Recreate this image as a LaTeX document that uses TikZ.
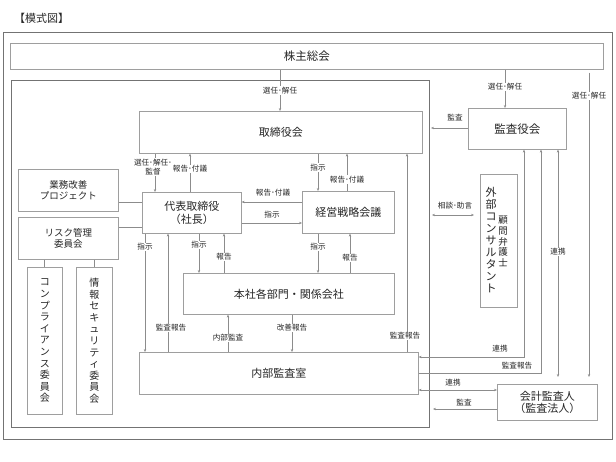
\documentclass[tikz,border=0pt]{standalone}
\usepackage{fontspec}
\setmainfont{Noto Sans CJK JP}
\usetikzlibrary{arrows.meta}
\begin{document}
\begin{tikzpicture}[x=1pt,y=-1pt,
  box/.style={draw=black!38, line width=0.6pt, inner sep=0pt, align=center, anchor=north west, text=black!85, font=\fontsize{11}{13}\selectfont},
  sidebox/.style={box, font=\fontsize{9.5}{11.5}\selectfont},
  vbox/.style={box, font=\fontsize{10}{11.6}\selectfont},
  frame/.style={draw=black!55, line width=0.7pt},
  conn/.style={draw=black!45, line width=0.6pt},
  arr/.style={conn, -{Stealth[length=3pt,width=2.4pt]}},
  darr/.style={conn, {Stealth[length=3pt,width=2.4pt]}-{Stealth[length=3pt,width=2.4pt]}},
  lbl/.style={fill=white, inner sep=0.8pt, text=black!85, font=\fontsize{7.6}{8.6}\selectfont, align=center},
  tlbl/.style={inner sep=0.8pt, text=black!85, font=\fontsize{7.6}{8.6}\selectfont},
]
\useasboundingbox (0,0) rectangle (616,462);
\fill[white] (0,0) rectangle (616,462);

\node[anchor=west, inner sep=0pt, text=black!85, font=\fontsize{11}{13}\selectfont] (title) at (14,18) {【模式図】};

% frames
\draw[frame] (3,32) rectangle (612,439);
\draw[frame] (11,80) rectangle (429,427);

% boxes
\node[box, minimum width=593pt, minimum height=26pt, font=\fontsize{11.5}{13}\selectfont] (kab) at (10,43) {株主総会};
\node[box, minimum width=283pt, minimum height=42pt] (tori) at (139,111) {取締役会};
\node[box, minimum width=98pt, minimum height=41pt, font=\fontsize{11.5}{13}\selectfont] (kansa) at (468,108) {監査役会};
\node[box, minimum width=99pt, minimum height=41pt] (daihyo) at (142,192) {代表取締役\\（社長）};
\node[box, minimum width=92pt, minimum height=42pt] (keiei) at (302,191) {経営戦略会議};
\node[sidebox, minimum width=100pt, minimum height=42pt] (gyomu) at (18,169) {業務改善\\プロジェクト};
\node[sidebox, minimum width=100pt, minimum height=42pt] (risk) at (18,217) {リスク管理\\委員会};
\node[vbox, minimum width=35pt, minimum height=147pt] (comp) at (27,267) {コ\\ン\\プ\\ラ\\イ\\ア\\ン\\ス\\委\\員\\会};
\node[vbox, minimum width=36pt, minimum height=147pt] (joho) at (76,267) {情\\報\\セ\\キ\\ュ\\リ\\テ\\ィ\\委\\員\\会};
\node[box, minimum width=211pt, minimum height=41pt] (honsha) at (183,273) {本社各部門・関係会社};
\node[box, minimum width=279pt, minimum height=42pt] (naibu) at (139,352) {内部監査室};
\node[box, minimum width=37pt, minimum height=133pt] (gaibu) at (480,174) {};
\node[inner sep=0pt, align=center, text=black!85, font=\fontsize{11}{11.9}\selectfont] (gaibuA) at (491,240) {外\\部\\コ\\ン\\サ\\ル\\タ\\ン\\ト};
\node[inner sep=0pt, align=center, text=black!85, font=\fontsize{9.5}{10.6}\selectfont] (gaibuB) at (503,241.5) {顧\\問\\弁\\護\\士};
\node[box, minimum width=100pt, minimum height=36pt, font=\fontsize{11}{12.5}\selectfont] (kaikei) at (497,384) {会計監査人\\（監査法人）};

% helper coordinates
\coordinate (x145) at (145,0); \coordinate (x155) at (155,0); \coordinate (x168) at (168,0);
\coordinate (x190) at (190,0); \coordinate (x199) at (199,0); \coordinate (x224) at (224,0);
\coordinate (x228) at (228,0); \coordinate (x280) at (280,0); \coordinate (x292) at (292,0);
\coordinate (x318) at (318,0); \coordinate (x347) at (347,0); \coordinate (x350) at (350,0);
\coordinate (x407) at (407,0); \coordinate (x505) at (505,0); \coordinate (x524) at (524,0);
\coordinate (x541) at (541,0); \coordinate (x558) at (558,0); \coordinate (x589) at (589,0);
\coordinate (x44) at (44,0); \coordinate (x94) at (94,0);
\coordinate (y128) at (0,128); \coordinate (y202) at (0,202); \coordinate (y223) at (0,223);
\coordinate (y227) at (0,227); \coordinate (y357) at (0,357); \coordinate (y373) at (0,373);
\coordinate (y390) at (0,390); \coordinate (y409) at (0,409); \coordinate (y215) at (0,215);
\coordinate (sodanL) at (432,215);
\coordinate (kansaL) at (431,128);
\coordinate (kaikeiL) at (433,409);
\coordinate (c524) at (524,357); \coordinate (c541) at (541,373);

% shareholders
\draw[arr] (kab.south -| x280) -- (tori.north -| x280) node[lbl, pos=0.5] (l1) {選任･解任};
\draw[arr] (kab.south -| x505) -- (kansa.north -| x505) node[lbl, pos=0.45] (l2) {選任･解任};
\draw[arr, shorten <=3pt, shorten >=7pt] (kab.south -| x589) -- (kaikei.north -| x589);
\node[lbl] (l3) at (589,96) {選任･解任};

% audit board
\draw[arr] (kansa.west |- y128) -- (kansaL);
\node[tlbl] (l4) at (455,118) {監査};

% board <-> president
\draw[arr] (tori.south -| x155) -- (daihyo.north -| x155);
\node[lbl] (l5) at (153,167) {選任･解任･\\監督};
\draw[arr] (daihyo.north -| x190) -- (tori.south -| x190) node[lbl, pos=0.6] (l6) {報告･付議};

% board <-> strategy
\draw[arr] (tori.south -| x318) -- (keiei.north -| x318) node[lbl, pos=0.37] (l7) {指示};
\draw[arr] (keiei.north -| x347) -- (tori.south -| x347) node[lbl, pos=0.3] (l8) {報告･付議};

% president <-> strategy
\draw[arr] (keiei.west |- y202) -- (daihyo.east |- y202);
\node[tlbl] (l9) at (273,193) {報告･付議};
\draw[arr] (daihyo.east |- y223) -- (keiei.west |- y223);
\node[tlbl] (l10) at (272,215) {指示};

% side committees
\draw[conn] (gyomu.east |- y202) -- (daihyo.west |- y202);
\draw[conn] (risk.east |- y227) -- (daihyo.west |- y227);
\draw[conn] (risk.south -| x44) -- (comp.north -| x44);
\draw[conn] (risk.south -| x94) -- (joho.north -| x94);

% president <-> internal audit / departments
\draw[arr] (daihyo.south -| x145) -- (naibu.north -| x145);
\node[lbl] (l11) at (145,247) {指示};
\draw[arr] (naibu.north -| x168) -- (daihyo.south -| x168);
\node[lbl] (l12) at (171,328) {監査報告};
\draw[arr] (daihyo.south -| x199) -- (honsha.north -| x199);
\node[lbl] (l13) at (199,245) {指示};
\draw[arr] (honsha.north -| x224) -- (daihyo.south -| x224);
\node[lbl] (l14) at (224,257) {報告};

% strategy <-> departments
\draw[arr] (keiei.south -| x318) -- (honsha.north -| x318);
\node[lbl] (l15) at (318,247) {指示};
\draw[arr] (honsha.north -| x350) -- (keiei.south -| x350);
\node[lbl] (l16) at (350,258) {報告};

% departments <-> internal audit
\draw[arr] (naibu.north -| x228) -- (honsha.south -| x228);
\node[lbl] (l17) at (228,338) {内部監査};
\draw[arr] (honsha.south -| x292) -- (naibu.north -| x292);
\node[lbl] (l18) at (292,328) {改善報告};
\draw[arr] (naibu.north -| x407) -- (tori.south -| x407);
\node[lbl] (l19) at (405,336) {監査報告};

% external consultants
\draw[darr, shorten >=6pt] (sodanL) -- (gaibu.west |- y215);
\node[tlbl] (l20) at (455,206) {相談･助言};

% internal audit <-> audit board
\draw[darr] (naibu.east |- y357) -- (c524) -- (kansa.south -| x524);
\node[tlbl] (l21) at (500,349) {連携};
\draw[arr] (naibu.east |- y373) -- (c541) -- (kansa.south -| x541);
\node[tlbl] (l22) at (517,366) {監査報告};

% audit board <-> accounting auditor
\draw[darr, shorten >=7pt] (kansa.south -| x558) -- (kaikei.north -| x558);
\node[lbl] (l23) at (558,252) {連携};

% internal audit <-> accounting auditor
\draw[darr] (naibu.east |- y390) -- (kaikei.west |- y390);
\node[tlbl] (l24) at (453,383) {連携};
\draw[arr] (kaikei.west |- y409) -- (kaikeiL);
\node[tlbl] (l25) at (464,403) {監査};
\end{tikzpicture}
\end{document}
